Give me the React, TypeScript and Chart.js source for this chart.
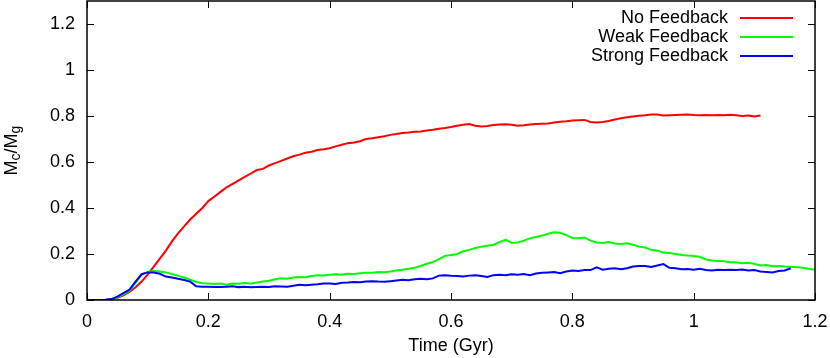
import React, { useEffect, useRef } from "react";
import { Chart, registerables } from "chart.js";
Chart.register(...registerables);

const TIME = [
  0, 0.01, 0.02, 0.03, 0.04, 0.05, 0.06, 0.07, 0.08, 0.09,
  0.1, 0.11, 0.12, 0.13, 0.14, 0.15, 0.16, 0.17, 0.18, 0.19,
  0.2, 0.21, 0.22, 0.23, 0.24, 0.25, 0.26, 0.27, 0.28, 0.29,
  0.3, 0.31, 0.32, 0.33, 0.34, 0.35, 0.36, 0.37, 0.38, 0.39,
  0.4, 0.41, 0.42, 0.43, 0.44, 0.45, 0.46, 0.47, 0.48, 0.49,
  0.5, 0.51, 0.52, 0.53, 0.54, 0.55, 0.56, 0.57, 0.58, 0.59,
  0.6, 0.61, 0.62, 0.63, 0.64, 0.65, 0.66, 0.67, 0.68, 0.69,
  0.7, 0.71, 0.72, 0.73, 0.74, 0.75, 0.76, 0.77, 0.78, 0.79,
  0.8, 0.81, 0.82, 0.83, 0.84, 0.85, 0.86, 0.87, 0.88, 0.89,
  0.9, 0.91, 0.92, 0.93, 0.94, 0.95, 0.96, 0.97, 0.98, 0.99,
  1.0, 1.01, 1.02, 1.03, 1.04, 1.05, 1.06, 1.07, 1.08, 1.09,
  1.1, 1.11, 1.12, 1.13, 1.14, 1.15, 1.16, 1.17, 1.18, 1.19,
  1.2,
];

const NO_FEEDBACK = [
  0, 0, 0, 0, 0.002, 0.01, 0.02, 0.035, 0.055, 0.08,
  0.11, 0.145, 0.18, 0.215, 0.255, 0.29, 0.32, 0.35, 0.375, 0.4,
  0.43, 0.45, 0.47, 0.49, 0.505, 0.52, 0.535, 0.55, 0.565, 0.57,
  0.585, 0.595, 0.605, 0.615, 0.625, 0.632, 0.64, 0.645, 0.652, 0.655,
  0.66, 0.668, 0.675, 0.682, 0.685, 0.69, 0.7, 0.703, 0.708, 0.712,
  0.718, 0.722, 0.726, 0.728, 0.732, 0.733, 0.737, 0.74, 0.745, 0.748,
  0.752, 0.758, 0.762, 0.765, 0.758, 0.754, 0.757, 0.761, 0.763, 0.764,
  0.762, 0.758, 0.76, 0.763, 0.765, 0.766, 0.767, 0.772, 0.775, 0.777,
  0.78, 0.782, 0.783, 0.774, 0.772, 0.774, 0.778, 0.785, 0.79, 0.795,
  0.798, 0.801, 0.803, 0.806, 0.806, 0.802, 0.803, 0.804, 0.805, 0.806,
  0.804, 0.803, 0.804, 0.803, 0.804, 0.803, 0.805, 0.803, 0.8, 0.802,
  0.798, 0.802,
];

const WEAK_FEEDBACK = [
  0, 0, 0, 0, 0.003, 0.012, 0.025, 0.04, 0.075, 0.11,
  0.122, 0.126, 0.124, 0.12, 0.113, 0.105, 0.098, 0.088, 0.078, 0.073,
  0.072, 0.07, 0.072, 0.066, 0.072, 0.071, 0.074, 0.072, 0.076, 0.08,
  0.084, 0.09, 0.094, 0.092, 0.098, 0.1, 0.099, 0.104, 0.108, 0.107,
  0.11, 0.112, 0.11, 0.114, 0.113, 0.116, 0.119, 0.118, 0.122, 0.121,
  0.124, 0.128, 0.132, 0.136, 0.14, 0.148, 0.158, 0.165, 0.178, 0.192,
  0.196, 0.2, 0.212, 0.218, 0.226, 0.232, 0.236, 0.24, 0.252, 0.262,
  0.248, 0.25, 0.258, 0.268, 0.274, 0.28, 0.288, 0.294, 0.292, 0.282,
  0.27, 0.268, 0.272, 0.258, 0.25, 0.248, 0.252, 0.246, 0.244, 0.247,
  0.24, 0.232, 0.228, 0.218, 0.214, 0.206, 0.204, 0.2, 0.196, 0.193,
  0.191, 0.188, 0.176, 0.172, 0.17, 0.168, 0.164, 0.164, 0.16, 0.162,
  0.157, 0.15, 0.152, 0.147, 0.148, 0.146, 0.145, 0.142, 0.14, 0.136,
  0.132,
];

const STRONG_FEEDBACK = [
  0, 0, 0, 0.001, 0.004, 0.015, 0.03, 0.045, 0.08, 0.112,
  0.12, 0.12, 0.114, 0.102, 0.098, 0.092, 0.087, 0.08, 0.06, 0.058,
  0.058, 0.057, 0.056, 0.058, 0.06, 0.056, 0.058, 0.055, 0.057, 0.058,
  0.057, 0.06, 0.059, 0.058, 0.062, 0.066, 0.064, 0.066, 0.068, 0.072,
  0.072, 0.07, 0.075, 0.076, 0.078, 0.077, 0.08, 0.082, 0.08, 0.079,
  0.082, 0.085, 0.088, 0.086, 0.09, 0.092, 0.09, 0.094, 0.106, 0.108,
  0.105, 0.104, 0.102, 0.106, 0.108, 0.104, 0.1, 0.108, 0.11, 0.108,
  0.112, 0.11, 0.113, 0.108, 0.115, 0.118, 0.12, 0.122, 0.116, 0.124,
  0.128, 0.126, 0.13, 0.13, 0.142, 0.132, 0.136, 0.138, 0.134, 0.138,
  0.146, 0.148, 0.148, 0.144, 0.15, 0.156, 0.14, 0.138, 0.134, 0.135,
  0.132, 0.136, 0.13, 0.128, 0.131, 0.13, 0.132, 0.13, 0.133, 0.128,
  0.13, 0.124, 0.122, 0.12, 0.126, 0.128, 0.138,
];

const SERIES_NAMES = ["No Feedback", "Weak Feedback", "Strong Feedback"];
const SERIES_COLORS = ["#ff0000", "#00ff00", "#0000ff"];
const X_TICKS = [0, 0.2, 0.4, 0.6, 0.8, 1, 1.2];
const Y_TICKS = [0, 0.2, 0.4, 0.6, 0.8, 1, 1.2];
const X_TITLE = "Time (Gyr)";

const FONT = "'Liberation Sans', Arial, Helvetica, sans-serif";
const FS = 18;

function toPoints(vals: number[]) {
  return vals.map((v, i) => ({ x: TIME[i], y: v }));
}

function fmt(v: number) {
  return String(Math.round(v * 10) / 10);
}

const framePlugin = {
  id: "gnuframe",
  afterDatasetsDraw(chart: any) {
    const ctx = chart.ctx;
    const { left, right, top, bottom } = chart.chartArea;
    const xs = chart.scales.x;
    const ys = chart.scales.y;
    const TL = 7;
    ctx.save();
    ctx.strokeStyle = "#000";
    ctx.lineWidth = 1;
    ctx.beginPath();
    X_TICKS.forEach((v) => {
      const px = Math.round(xs.getPixelForValue(v)) + 0.5;
      ctx.moveTo(px, bottom);
      ctx.lineTo(px, bottom - TL);
      ctx.moveTo(px, top);
      ctx.lineTo(px, top + TL);
    });
    Y_TICKS.forEach((v) => {
      const py = Math.round(ys.getPixelForValue(v)) + 0.5;
      ctx.moveTo(left, py);
      ctx.lineTo(left + TL, py);
      ctx.moveTo(right, py);
      ctx.lineTo(right - TL, py);
    });
    ctx.stroke();
    ctx.lineWidth = 1.5;
    ctx.strokeRect(left, top, right - left, bottom - top);

    ctx.font = `${FS}px ${FONT}`;
    ctx.fillStyle = "#000";

    // tick labels
    ctx.textAlign = "center";
    ctx.textBaseline = "middle";
    X_TICKS.forEach((v) => {
      ctx.fillText(fmt(v), xs.getPixelForValue(v), 322);
    });
    ctx.textAlign = "right";
    Y_TICKS.forEach((v) => {
      ctx.fillText(fmt(v), 75, ys.getPixelForValue(v));
    });

    // legend
    const rows = [18, 37, 56];
    SERIES_NAMES.forEach((name, i) => {
      ctx.fillStyle = "#000";
      ctx.textAlign = "right";
      ctx.fillText(name, 728, rows[i]);
      ctx.strokeStyle = SERIES_COLORS[i];
      ctx.lineWidth = 2;
      ctx.beginPath();
      ctx.moveTo(740, rows[i]);
      ctx.lineTo(793, rows[i]);
      ctx.stroke();
    });

    // x title
    ctx.fillStyle = "#000";
    ctx.textAlign = "center";
    ctx.textBaseline = "middle";
    ctx.fillText(X_TITLE, (left + right) / 2, 346);

    // y title with subscripts
    const parts: [string, boolean][] = [["M", false], ["c", true], ["/M", false], ["g", true]];
    const big = `${FS}px ${FONT}`;
    const small = `${Math.round(FS * 0.75)}px ${FONT}`;
    let total = 0;
    parts.forEach(([t, sub]) => {
      ctx.font = sub ? small : big;
      total += ctx.measureText(t).width;
    });
    ctx.translate(12, (top + bottom) / 2);
    ctx.rotate(-Math.PI / 2);
    ctx.textAlign = "left";
    ctx.textBaseline = "middle";
    let xo = -total / 2;
    parts.forEach(([t, sub]) => {
      ctx.font = sub ? small : big;
      ctx.fillText(t, xo, sub ? 4 : 0);
      xo += ctx.measureText(t).width;
    });
    ctx.restore();
  },
};

export default function App() {
  const ref = useRef<HTMLCanvasElement | null>(null);
  useEffect(() => {
    document.body.style.margin = "0";
    const canvas = ref.current;
    if (!canvas) return;
    const all = [NO_FEEDBACK, WEAK_FEEDBACK, STRONG_FEEDBACK];
    const chart = new Chart(canvas, {
      type: "line",
      data: {
        datasets: all.map((vals, i) => ({
          label: SERIES_NAMES[i],
          data: toPoints(vals),
          borderColor: SERIES_COLORS[i],
          backgroundColor: SERIES_COLORS[i],
          borderWidth: 2,
          pointRadius: 0,
          tension: 0,
          fill: false,
          order: 3 - i,
        })),
      },
      options: {
        animation: false,
        responsive: false,
        devicePixelRatio: 1,
        layout: { padding: { left: 0, right: 15, top: 1, bottom: 0 } },
        plugins: { legend: { display: false }, tooltip: { enabled: false } },
        scales: {
          x: {
            type: "linear",
            min: 0,
            max: 1.2,
            afterBuildTicks: (s: any) => {
              s.ticks = X_TICKS.map((v) => ({ value: v }));
            },
            afterFit: (s: any) => {
              s.height = 58;
            },
            grid: { display: false, drawTicks: false },
            border: { display: false },
            ticks: { display: false },
          },
          y: {
            type: "linear",
            min: 0,
            max: 1.3,
            afterBuildTicks: (s: any) => {
              s.ticks = Y_TICKS.map((v) => ({ value: v }));
            },
            afterFit: (s: any) => {
              s.width = 87;
            },
            grid: { display: false, drawTicks: false },
            border: { display: false },
            ticks: { display: false },
          },
        },
      },
      plugins: [framePlugin],
    });
    return () => chart.destroy();
  }, []);
  return (
    <div style={{ width: 830, height: 358 }}>
      <canvas ref={ref} width={830} height={358} style={{ display: "block" }} />
    </div>
  );
}
